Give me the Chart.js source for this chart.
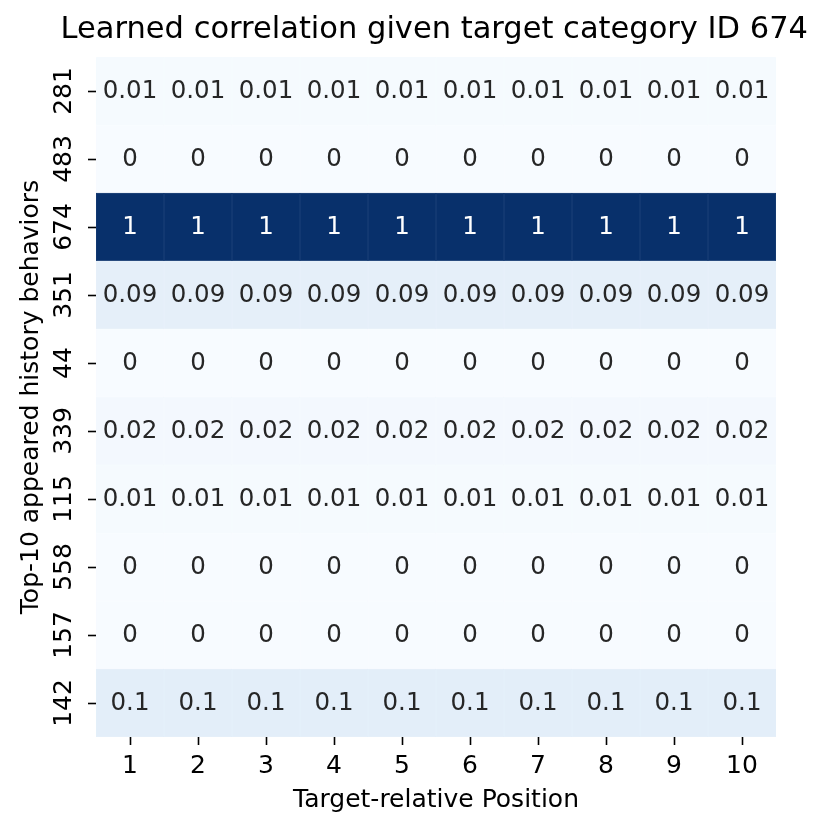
<!DOCTYPE html>
<html>
<head>
<meta charset="utf-8">
<script src="https://cdn.jsdelivr.net/npm/chart.js@4"></script>
<style>
html,body{margin:0;padding:0;background:#fff;}
#wrap{width:830px;height:833px;}
</style>
</head>
<body>
<div id="wrap"><canvas id="c" width="830" height="833"></canvas></div>
<script>
const rowLabels = ['281','483','674','351','44','339','115','558','157','142'];
const colLabels = ['1','2','3','4','5','6','7','8','9','10'];
const values = [
  [0.01,0.01,0.01,0.01,0.01,0.01,0.01,0.01,0.01,0.01],
  [0,0,0,0,0,0,0,0,0,0],
  [1,1,1,1,1,1,1,1,1,1],
  [0.09,0.09,0.09,0.09,0.09,0.09,0.09,0.09,0.09,0.09],
  [0,0,0,0,0,0,0,0,0,0],
  [0.02,0.02,0.02,0.02,0.02,0.02,0.02,0.02,0.02,0.02],
  [0.01,0.01,0.01,0.01,0.01,0.01,0.01,0.01,0.01,0.01],
  [0,0,0,0,0,0,0,0,0,0],
  [0,0,0,0,0,0,0,0,0,0],
  [0.1,0.1,0.1,0.1,0.1,0.1,0.1,0.1,0.1,0.1]
];
const titleText = 'Learned correlation given target category ID 674';
const xTitle = 'Target-relative Position';
const yTitle = 'Top-10 appeared history behaviors';

const blues = ['#f7fbff','#deebf7','#c6dbef','#9ecae1','#6baed6','#4292c6','#2171b5','#08519c','#08306b'];
function hex(h){return [1,3,5].map(i=>parseInt(h.substr(i,2),16));}
function bluesRGB(v){
  v=Math.max(0,Math.min(1,v));
  const p=v*(blues.length-1), i=Math.min(Math.floor(p),blues.length-2), f=p-i;
  const a=hex(blues[i]), b=hex(blues[i+1]);
  return a.map((x,k)=>Math.round(x+(b[k]-x)*f));
}
function bluesColor(v){return 'rgb('+bluesRGB(v).join(',')+')';}
function edgeColor(v){return 'rgb('+bluesRGB(v).map(x=>Math.round(x+(255-x)*0.1)).join(',')+')';}
function isDark(v){return v>0.6;}

Chart.defaults.font.family = "'DejaVu Sans', sans-serif";
Chart.defaults.color = '#000';

const datasets = colLabels.map((c,j)=>({
  label: c,
  data: rowLabels.map(()=>1),
  backgroundColor: rowLabels.map((r,i)=>bluesColor(values[i][j])),
  borderColor: rowLabels.map((r,i)=>edgeColor(values[i][j])),
  borderWidth: 0.5,
  borderSkipped: false,
  barPercentage: 1,
  categoryPercentage: 1
}));

const annot = {
  id:'annot',
  afterDatasetsDraw(chart){
    const ctx=chart.ctx;
    ctx.save();
    ctx.font = "24.5px 'DejaVu Sans', sans-serif";
    ctx.textAlign='center';
    ctx.textBaseline='middle';
    chart.data.datasets.forEach((ds,j)=>{
      chart.getDatasetMeta(j).data.forEach((el,i)=>{
        const v=values[i][j];
        ctx.fillStyle = isDark(v)?'#ffffff':'#262626';
        ctx.fillText(String(v),(el.x+el.base)/2,el.y+1);
      });
    });
    ctx.restore();
  },
  afterDraw(chart){
    const ctx=chart.ctx, ys=chart.scales.y;
    ctx.save();
    ctx.font = "25px 'DejaVu Sans', sans-serif";
    ctx.fillStyle='#000';
    ctx.textAlign='center';
    ctx.textBaseline='middle';
    rowLabels.forEach((lab,i)=>{
      const y=ys.getPixelForTick(i);
      ctx.save();
      ctx.translate(ys.right-32,y);
      ctx.rotate(-Math.PI/2);
      ctx.fillText(lab,0,0);
      ctx.restore();
    });
    ctx.restore();
  }
};

new Chart(document.getElementById('c'),{
  type:'bar',
  data:{labels:rowLabels,datasets},
  plugins:[annot],
  options:{
    indexAxis:'y',
    responsive:false,
    animation:false,
    devicePixelRatio:1,
    layout:{padding:{left:0,right:22,top:0,bottom:0}},
    plugins:{
      legend:{display:false},
      tooltip:{enabled:false},
      title:{display:true,text:titleText,fullSize:true,align:'end',color:'#000',
        font:{size:30.5,weight:'normal',lineHeight:1.2},padding:{top:12,bottom:8.4}}
    },
    scales:{
      x:{
        type:'linear',stacked:true,min:0,max:colLabels.length,
        afterBuildTicks(s){s.ticks=colLabels.map((c,i)=>({value:i+0.5}));},
        afterFit(s){s.height=96;},
        ticks:{autoSkip:false,maxRotation:0,padding:6,font:{size:25},color:'#000',
          callback:(v,i)=>colLabels[i]},
        grid:{drawOnChartArea:false,drawTicks:true,tickLength:8,tickColor:'#000',tickWidth:1.6},
        border:{display:false},
        title:{display:true,text:xTitle,font:{size:25},color:'#000',padding:{top:0,bottom:18}}
      },
      y:{
        type:'category',stacked:true,offset:true,
        afterFit(s){s.width=96;},
        ticks:{autoSkip:false,padding:6,font:{size:25},color:'rgba(0,0,0,0)'},
        grid:{offset:false,drawOnChartArea:false,drawTicks:true,tickLength:8,tickColor:'#000',tickWidth:1.6},
        border:{display:false},
        title:{display:true,text:yTitle,font:{size:25},color:'#000',padding:{top:16,bottom:0}}
      },
      yRight:{
        type:'category',position:'right',display:true,
        afterFit(s){s.width=32;},
        ticks:{display:false},
        grid:{display:false,drawTicks:false},
        border:{display:false},
        title:{display:false}
      }
    }
  }
});
</script>
</body>
</html>
